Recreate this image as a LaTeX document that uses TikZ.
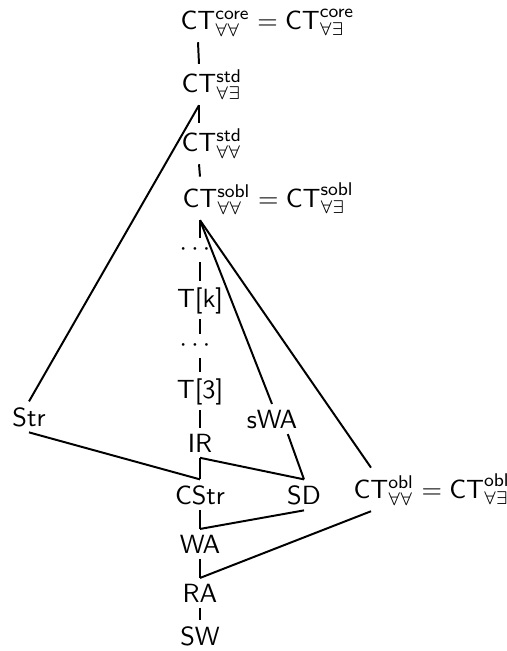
\documentclass[tikz,border=0pt]{standalone}
\usepackage{amssymb}
\tikzset{
  lbl/.style={anchor=base, inner sep=2pt, font=\sffamily},
  dts/.style={anchor=center, inner sep=2.3pt},
  hline/.style={line width=0.75pt}
}
\newcommand{\ctlab}[3]{$\mathsf{CT}\rlap{${}^{\mathsf{#1}}_{#2}#3$}$}
\begin{document}
\begin{tikzpicture}[x=0.38pt,y=-0.38pt]
\useasboundingbox (0,0) rectangle (507,651);
\node[lbl] (core)  at (198,29)  {\ctlab{core}{\forall\forall}{=\mathsf{CT}^{\mathsf{core}}_{\forall\exists}}};
\node[lbl] (stdAE) at (199,92)  {\ctlab{std}{\forall\exists}{}};
\node[lbl] (stdAA) at (199,151) {\ctlab{std}{\forall\forall}{}};
\node[lbl] (sobl)  at (200,207) {\ctlab{sobl}{\forall\forall}{=\mathsf{CT}^{\mathsf{sobl}}_{\forall\exists}}};
\node[dts] (d1)    at (195,250) {$\cdots$};
\node[lbl] (Tk)    at (200,307) {T[k]};
\node[dts] (d2)    at (195,346) {$\cdots$};
\node[lbl] (T3)    at (200,398) {T[3]};
\node[lbl] (Str)   at (29,426)  {Str};
\node[lbl] (sWA)   at (272,428) {sWA};
\node[lbl] (IR)    at (200,452) {IR};
\node[lbl] (CStr)  at (200,504) {CStr};
\node[lbl] (SD)    at (304,504) {SD};
\node[lbl] (obl)   at (371,498) {\ctlab{obl}{\forall\forall}{=\mathsf{CT}^{\mathsf{obl}}_{\forall\exists}}};
\node[lbl] (WA)    at (200,553) {WA};
\node[lbl] (RA)    at (200,602) {RA};
\node[lbl] (SW)    at (200,645) {SW};
\begin{scope}[hline]
\draw (core.south) -- (stdAE.north);
\draw (stdAE.south) -- (stdAA.north);
\draw (stdAE.south) -- (Str.north);
\draw (stdAA.south) -- (sobl.north);
\draw (sobl.south) -- (sobl.south |- d1.north);
\draw (sobl.south |- d1.south) -- (Tk.north);
\draw (Tk.south) -- (sobl.south |- d2.north);
\draw (sobl.south |- d2.south) -- (T3.north);
\draw (sobl.south) -- (sWA.north);
\draw (sobl.south) -- (obl.north);
\draw (T3.south) -- (IR.north);
\draw (IR.south) -- (CStr.north);
\draw (IR.south) -- (SD.north);
\draw (Str.south) -- (CStr.north);
\draw ([xshift=6pt]sWA.south) -- (SD.north);
\draw (CStr.south) -- (WA.north);
\draw (SD.south) -- (WA.north);
\draw (WA.south) -- (RA.north);
\draw (RA.north) -- (obl.south);
\draw (RA.south) -- (SW.north);
\end{scope}
\end{tikzpicture}
\end{document}
